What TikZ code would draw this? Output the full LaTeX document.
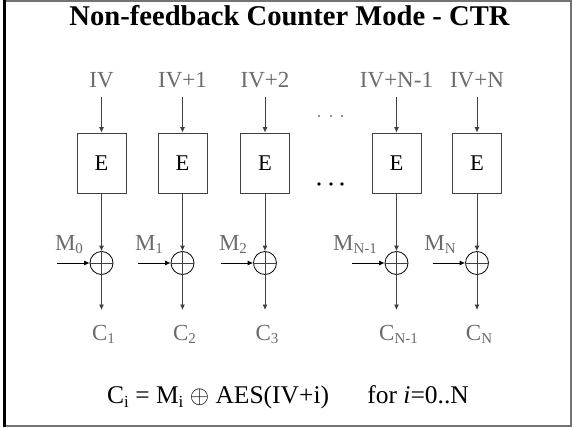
\documentclass[tikz,border=0pt]{standalone}
\usepackage{fontspec}
\setmainfont{Liberation Serif}
\usetikzlibrary{arrows.meta}
\definecolor{labgray}{gray}{0.42}
\definecolor{linegray}{gray}{0.25}
\definecolor{framegray}{gray}{0.45}
\newcommand{\lsub}[1]{\raisebox{-3.5pt}{\fontsize{15}{15}\selectfont #1}}
\newcommand{\fsub}[1]{\raisebox{-4pt}{\fontsize{17}{17}\selectfont #1}}
\begin{document}
\begin{tikzpicture}[x=1pt,y=-1pt,
  lbl/.style={text=labgray,font=\fontsize{23}{26}\selectfont,anchor=base,inner sep=0pt},
  ebox/.style={draw=linegray,line width=0.8pt,minimum width=49pt,minimum height=60pt,inner sep=0pt,font=\fontsize{22.5}{25}\selectfont},
  xorc/.style={draw=black,circle,minimum size=23pt,inner sep=0pt,line width=0.8pt},
  arr/.style={draw=linegray,-{Latex[length=5.5pt,width=5pt]},line width=0.8pt},
  pl/.style={draw=linegray,line width=0.8pt}]
\useasboundingbox (0,0) rectangle (573,428);
% frame
\draw[framegray,line width=1.6pt] (4,1.2) rectangle (571.2,425.8);
\draw[black,line width=2.6pt] (4.6,0) -- (4.6,427);
% title
\node[anchor=base,inner sep=0pt,font=\fontsize{28.6}{31}\selectfont\bfseries] (title) at (289.5,26) {Non-feedback Counter Mode - CTR};
% columns
\foreach \i/\x/\iv/\c in {1/101.5/IV/1, 2/182.5/IV+1/2, 3/265/IV+2/3, 4/396.5/IV+N-1/N-1, 5/477/IV+N/N}{
  \node[lbl] (iv\i) at (\x,87.5) {\iv};
  \coordinate (ivs\i) at (\x,97);
  \node[ebox] (e\i) at (\x,163) {E};
  \node[xorc] (x\i) at (\x,263) {};
  \coordinate (cs\i) at (\x,310);
  \coordinate (ms\i) at (\x-44.5,263);
  \node[lbl] (c\i) at (\x+2,340) {C\lsub{\c}};
  \draw[arr] (ivs\i) -- (e\i.north);
  \draw[arr] (e\i.south) -- (x\i.north);
  \draw[pl] (x\i.north) -- (x\i.south);
  \draw[pl] (x\i.west) -- (x\i.east);
  \draw[arr] (x\i.south) -- (cs\i);
  \draw[arr,draw=black] (ms\i) -- (x\i.west);
}
% M labels
\node[lbl] (m1) at (69,250) {M\lsub{0}};
\node[lbl] (m2) at (149,250) {M\lsub{1}};
\node[lbl] (m3) at (233,250) {M\lsub{2}};
\node[lbl] (m4) at (355,250) {M\lsub{N-1}};
\node[lbl] (m5) at (440,250) {M\lsub{N}};
% dots
\foreach \x in {319,331,342}{
  \fill[labgray] (\x,116) circle (1.2);
  \fill[black] (\x,184) circle (1.8);
}
% formula
\node[anchor=base west,inner sep=0pt,font=\fontsize{25.5}{28}\selectfont] (formula) at (107,403)
  {C\fsub{i} = M\fsub{i} $\oplus$ AES(IV+i)\hspace{1.5em}for \textit{i}=0..N};
\end{tikzpicture}
\end{document}
